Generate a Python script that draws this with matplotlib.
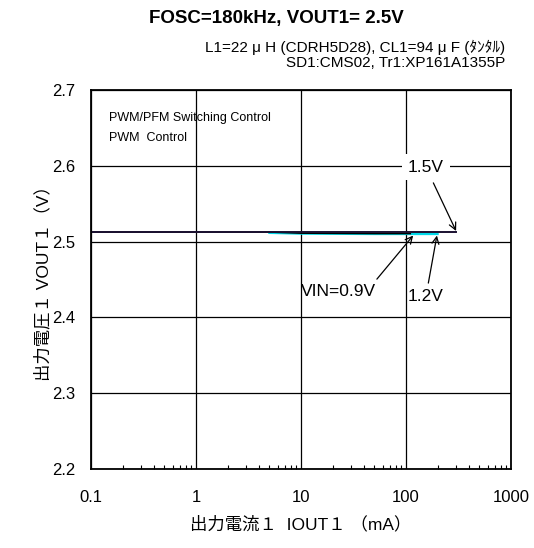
import matplotlib
matplotlib.use("Agg")
import matplotlib.pyplot as plt
from matplotlib.ticker import LogLocator, NullFormatter

plt.rcParams['font.family'] = ['Liberation Sans', 'Noto Sans CJK JP', 'DejaVu Sans']

# kurvedata (aflest fra figuren)
iout_09 = [0.1, 1, 5, 10, 50, 110]
vout_09 = [2.5125, 2.5125, 2.5125, 2.511, 2.5105, 2.5105]
iout_12 = [5, 10, 50, 100, 200]
vout_12 = [2.5115, 2.5105, 2.510, 2.510, 2.510]
iout_15 = [0.1, 1, 10, 100, 300]
vout_15 = [2.5127, 2.5127, 2.5127, 2.5127, 2.5127]

yticks = [2.2, 2.3, 2.4, 2.5, 2.6, 2.7]
xticks = [0.1, 1, 10, 100, 1000]
xticklabels = ["0.1", "1", "10", "100", "1000"]

fig = plt.figure(figsize=(5.34, 5.48), dpi=100)
ax = fig.add_axes([91/534, 1-469/548, 420/534, 379/548])

ax.plot(iout_12, vout_12, color="#00d8e8", lw=1.6)
ax.plot(iout_09, vout_09, color="black", lw=1.0)
ax.plot(iout_15, vout_15, color="#1a1030", lw=1.4)

ax.set_xscale("log")
ax.set_xlim(0.1, 1000)
ax.set_ylim(2.2, 2.7)
ax.set_xticks(xticks)
ax.set_xticklabels(xticklabels)
ax.set_yticks(yticks)
ax.set_yticklabels(["%.1f" % v for v in yticks])
ax.xaxis.set_minor_locator(LogLocator(base=10, subs=range(2, 10)))
ax.xaxis.set_minor_formatter(NullFormatter())
ax.tick_params(which="major", length=0, labelsize=12)
ax.tick_params(axis="x", pad=15)
ax.tick_params(axis="y", pad=11)
ax.tick_params(which="minor", direction="in", length=3, width=0.8, top=False)
ax.grid(True, which="major", color="black", lw=0.9)
for s in ax.spines.values():
    s.set_linewidth(1.3)

ax.set_xlabel("出力電流１  IOUT１ （mA）", fontsize=12.5, labelpad=8)
ax.set_ylabel("出力電圧１ VOUT１（V）", fontsize=12.5, labelpad=1)

ax.text(0.042, 0.926, "PWM/PFM Switching Control", transform=ax.transAxes,
        fontsize=9, va="center")
ax.text(0.042, 0.873, "PWM  Control", transform=ax.transAxes, fontsize=9,
        va="center")

arr = dict(arrowstyle="->", color="black", lw=0.9, shrinkA=2, shrinkB=0)
ax.annotate("1.5V", xy=(300, 2.514), xytext=(155, 2.598), fontsize=12.5,
            ha="center", va="center",
            bbox=dict(facecolor="white", edgecolor="none", pad=4),
            arrowprops=arr)
ax.annotate("VIN=0.9V", xy=(117, 2.508), xytext=(23, 2.444), fontsize=12.5,
            ha="center", va="top", arrowprops=dict(arr, relpos=(0.95, 1.0)))
ax.annotate("1.2V", xy=(197, 2.508), xytext=(155, 2.438), fontsize=12.5,
            ha="center", va="top", arrowprops=arr)

fig.text(276/534, 1-18/548, "FOSC=180kHz, VOUT1= 2.5V", ha="center", va="center",
         fontsize=13.5, fontweight="bold")
fig.text(505/534, 1-47/548, "L1=22 μ H (CDRH5D28), CL1=94 μ F (ﾀﾝﾀﾙ)", ha="right",
         va="center", fontsize=11)
fig.text(505/534, 1-63/548, "SD1:CMS02, Tr1:XP161A1355P", ha="right",
         va="center", fontsize=11)

fig.savefig("out.png", dpi=100)
